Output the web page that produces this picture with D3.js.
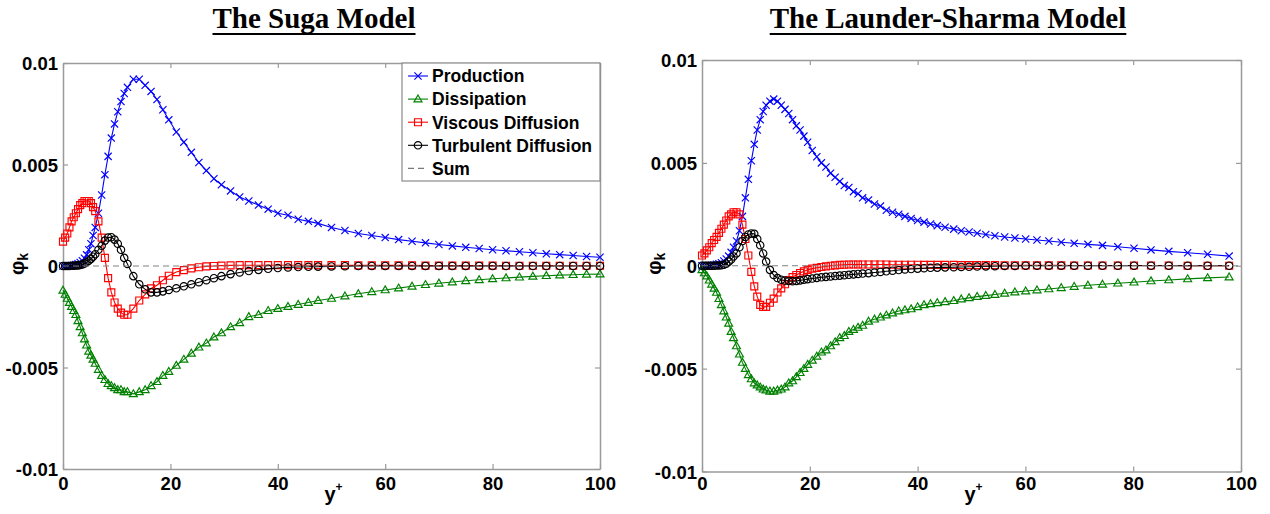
<!DOCTYPE html>
<html>
<head>
<meta charset="utf-8">
<script src="https://cdn.jsdelivr.net/npm/d3@7"></script>
<style>
  html, body { margin: 0; padding: 0; background: #fff; }
  svg { display: block; }
</style>
</head>
<body>
<svg id="chart" width="1270" height="514"></svg>
<script>
// ---------------- Data: turbulent kinetic energy budget terms vs y+ ----------------

// Suga model: wall-normal grid (y+) and budget terms
const yPlusSuga = [
  0, 0.4, 0.8, 1.2, 1.6, 2.0, 2.4, 2.8, 3.2, 3.6, 4.0, 4.4, 4.8, 5.2, 5.6, 6.0,
  6.6, 7.2, 7.8, 8.4, 9.0, 9.6, 10.2, 10.8, 11.4, 12.0,
  13.1, 14.2, 15.3, 16.4, 17.5, 18.6, 19.7,
  21.1, 22.5, 23.9, 25.3, 26.7, 28.1, 29.5,
  31.2, 32.9, 34.6, 36.4, 38.2, 40.0, 41.9, 43.8, 45.7,
  47.5, 50.0, 52.5, 55.0, 57.5, 60.0, 62.5, 65.0, 67.5, 70.0, 72.5, 75.0,
  77.5, 80.0, 82.5, 85.0, 87.5, 90.0, 92.5, 95.0, 97.5, 100.0
];
const productionSuga = [
  0, 0, 0, 0.00001, 0.00002, 0.00004, 0.00007, 0.00011, 0.00017, 0.00026, 0.00038, 0.00055, 0.0008, 0.0011, 0.0015, 0.0019,
  0.0026, 0.0035, 0.0045, 0.0054, 0.0063, 0.0070, 0.0076, 0.0081, 0.0085, 0.0088,
  0.0092, 0.0092, 0.0089, 0.0086, 0.0082, 0.0077, 0.0072,
  0.0066, 0.0061, 0.0056, 0.0051, 0.0047, 0.0043, 0.0040,
  0.0037, 0.0034, 0.0032, 0.0030, 0.0028, 0.0026, 0.0025, 0.0023, 0.0022,
  0.0021, 0.0019, 0.00175, 0.0016, 0.0015, 0.0014, 0.0013, 0.00122, 0.00114, 0.00106, 0.00099, 0.00092,
  0.00086, 0.0008, 0.00075, 0.0007, 0.00065, 0.0006, 0.00056, 0.00052, 0.00047, 0.00043
];
const dissipationSuga = [
  -0.0012, -0.0014, -0.0016, -0.0018, -0.0020, -0.0022, -0.0024, -0.0027, -0.0030, -0.0033, -0.0036, -0.0039, -0.0042, -0.0044, -0.0046, -0.0048,
  -0.0051, -0.0054, -0.0056, -0.0058, -0.0059, -0.0060, -0.0061, -0.0061, -0.0062, -0.0062,
  -0.0063, -0.0062, -0.0061, -0.0059, -0.0057, -0.0054, -0.0052,
  -0.0049, -0.0046, -0.0043, -0.0040, -0.0038, -0.0035, -0.0033,
  -0.0030, -0.0028, -0.0025, -0.0024, -0.0022, -0.0021, -0.0020, -0.0019, -0.0018,
  -0.0017, -0.0016, -0.00148, -0.00137, -0.00127, -0.00118, -0.00109, -0.0010, -0.00092, -0.00085, -0.00079, -0.00073,
  -0.00068, -0.00063, -0.00059, -0.00055, -0.00051, -0.00048, -0.00045, -0.00043, -0.00041, -0.0004
];
const viscousSuga = [
  0.0012, 0.0014, 0.0016, 0.0019, 0.0022, 0.0024, 0.0026, 0.0028, 0.0030, 0.0031, 0.0032, 0.0032, 0.0032, 0.0031, 0.0029, 0.0027,
  0.0022, 0.0014, 0.0004, -0.0006, -0.0013, -0.0018, -0.0021, -0.0023, -0.0024, -0.0024,
  -0.0021, -0.0017, -0.0014, -0.0011, -0.00095, -0.0007, -0.00048,
  -0.0003, -0.0002, -0.00012, -0.00006, -0.00002, 0, 0.00002,
  0.00003, 0.00004, 0.00004, 0.00004, 0.00004, 0.00004, 0.00004, 0.00004, 0.00004,
  0.00004, 0.00004, 0.00004, 0.00003, 0.00003, 0.00003, 0.00003, 0.00003, 0.00002, 0.00002, 0.00002, 0.00002,
  0.00002, 0.00002, 0.00001, 0.00001, 0.00001, 0.00001, 0.00001, 0.00001, 0.00001, 0.00001
];
const turbulentSuga = [
  0, 0, 0, 0, 0.00001, 0.00001, 0.00002, 0.00003, 0.00005, 0.00008, 0.00012, 0.00018, 0.00026, 0.00035, 0.00046, 0.00058,
  0.0008, 0.0010, 0.00125, 0.0014, 0.00142, 0.0013, 0.0011, 0.0008, 0.0004, 0.0001,
  -0.0005, -0.0009, -0.00115, -0.0013, -0.0013, -0.00125, -0.00118,
  -0.0011, -0.0010, -0.0009, -0.0008, -0.0007, -0.0006, -0.0005,
  -0.0004, -0.00032, -0.00025, -0.00019, -0.00014, -0.0001, -0.00007, -0.00005, -0.00004,
  -0.00003, -0.00002, -0.00001, 0, 0, 0, 0, 0, 0, 0, 0, 0,
  0, 0, 0, 0, 0, 0, 0, 0, 0, 0
];

// Launder-Sharma model: wall-normal grid (y+) and budget terms
const yPlusLS = [
  0, 0.45, 0.9, 1.35, 1.8, 2.25, 2.7, 3.15, 3.6, 4.05, 4.5, 4.95, 5.4, 5.85,
  6.4, 6.95, 7.5, 8.05, 8.6, 9.15, 9.7, 10.25, 10.8, 11.35, 11.9,
  12.6, 13.3, 14.0, 14.7, 15.4, 16.1, 16.8, 17.5, 18.2, 18.9, 19.6,
  20.45, 21.3, 22.15, 23.0, 23.85, 24.7, 25.55, 26.4, 27.25, 28.1, 28.95, 29.8,
  30.9, 32.0, 33.1, 34.2, 35.35, 36.5, 37.65, 38.8, 40.0, 41.2, 42.4, 43.65,
  45.1, 46.7, 48.1, 49.55, 51.05, 52.65, 54.35, 56.15, 58.05, 60.05, 62.15, 64.35,
  66.65, 69.05, 71.6, 74.3, 77.15, 80.15, 83.3, 86.6, 90.1, 93.8, 97.8
];
const productionLS = [
  0, 0, 0, 0.00001, 0.00002, 0.00004, 0.00007, 0.0001, 0.00015, 0.00023, 0.00033, 0.00047, 0.00065, 0.0009,
  0.0012, 0.0017, 0.0024, 0.0033, 0.0042, 0.0051, 0.0059, 0.0066, 0.0071, 0.0075, 0.0078,
  0.0080, 0.0081, 0.0080, 0.0078, 0.0076, 0.0074, 0.0071, 0.0068, 0.0066, 0.0063, 0.0060,
  0.0056, 0.0053, 0.0050, 0.0048, 0.0045, 0.0043, 0.0041, 0.0039, 0.0038, 0.0036, 0.0035, 0.0033,
  0.0032, 0.0030, 0.0029, 0.0027, 0.0026, 0.0025, 0.0024, 0.0023, 0.0022, 0.00212, 0.00203, 0.00195,
  0.00187, 0.00178, 0.0017, 0.00164, 0.00158, 0.00152, 0.00146, 0.0014, 0.00135, 0.0013, 0.00125, 0.0012,
  0.00114, 0.00109, 0.00104, 0.00099, 0.00092, 0.00085, 0.00077, 0.0007, 0.00063, 0.00056, 0.00047
];
const dissipationLS = [
  -0.0002, -0.00035, -0.0005, -0.0007, -0.0009, -0.0011, -0.0013, -0.0016, -0.0019, -0.0022, -0.0025, -0.0028, -0.0032, -0.0035,
  -0.0039, -0.0043, -0.0047, -0.0050, -0.0053, -0.0055, -0.0057, -0.0058, -0.0059, -0.0060, -0.00605,
  -0.0061, -0.0061, -0.00605, -0.0060, -0.0059, -0.0057, -0.0056, -0.0054, -0.0052, -0.0050, -0.0048,
  -0.0046, -0.0044, -0.0042, -0.0041, -0.0039, -0.0037, -0.0035, -0.0034, -0.0032, -0.0031, -0.0030, -0.0029,
  -0.0027, -0.0026, -0.0025, -0.0024, -0.0023, -0.0022, -0.00215, -0.0021, -0.0020, -0.0019, -0.00185, -0.0018,
  -0.00175, -0.0017, -0.00162, -0.00156, -0.0015, -0.00145, -0.0014, -0.00134, -0.00128, -0.00123, -0.00118, -0.00113,
  -0.00107, -0.00101, -0.00095, -0.0009, -0.00085, -0.0008, -0.00074, -0.00069, -0.00064, -0.00059, -0.00055
];
const viscousLS = [
  0.0005, 0.0006, 0.00075, 0.0009, 0.0011, 0.00125, 0.0014, 0.0016, 0.0018, 0.0020, 0.0022, 0.0024, 0.0025, 0.0026,
  0.0026, 0.0025, 0.0020, 0.0013, 0.0005, -0.0003, -0.0010, -0.0015, -0.0019, -0.0020, -0.0020,
  -0.0018, -0.0016, -0.0013, -0.0011, -0.0009, -0.0007, -0.00055, -0.00045, -0.00035, -0.00027, -0.0002,
  -0.00014, -0.0001, -0.00006, -0.00003, 0, 0.00002, 0.00004, 0.00005, 0.00006, 0.00006, 0.00006, 0.00006,
  0.00006, 0.00006, 0.00006, 0.00006, 0.00005, 0.00005, 0.00005, 0.00005, 0.00005, 0.00004, 0.00004, 0.00004,
  0.00004, 0.00004, 0.00003, 0.00003, 0.00003, 0.00003, 0.00003, 0.00002, 0.00002, 0.00002, 0.00002, 0.00002,
  0.00002, 0.00001, 0.00001, 0.00001, 0.00001, 0.00001, 0.00001, 0.00001, 0, 0, 0
];
const turbulentLS = [
  0, 0, 0, 0, 0, 0, 0.00001, 0.00001, 0.00002, 0.00005, 0.0001, 0.0002, 0.0003, 0.00045,
  0.0006, 0.0009, 0.0012, 0.0014, 0.00152, 0.00157, 0.00155, 0.0013, 0.0010, 0.0006, 0.0002,
  -0.0002, -0.00045, -0.0006, -0.00068, -0.00072, -0.00074, -0.00075, -0.00074, -0.00071, -0.00068, -0.00065,
  -0.00062, -0.00059, -0.00056, -0.00054, -0.00052, -0.0005, -0.00048, -0.00046, -0.00044, -0.00042, -0.0004, -0.00038,
  -0.00036, -0.00033, -0.0003, -0.00027, -0.00024, -0.00021, -0.00018, -0.00016, -0.00014, -0.00012, -0.0001, -0.00009,
  -0.00008, -0.00007, -0.00006, -0.00005, -0.00004, -0.00003, -0.00002, -0.00001, -0.00001, 0, 0, 0,
  0, 0, 0, 0, 0, 0, 0, 0, 0, 0, 0
];

// The budget closes: the sum of all terms stays at zero across the layer
const sumYPlus = [0, 100];
const sumValues = [0, 0];

// Axis ticks and labels
const xTicks = [0, 20, 40, 60, 80, 100];
const yTicks = [-0.01, -0.005, 0, 0.005, 0.01];
const yTickLabels = ["-0.01", "-0.005", "0", "0.005", "0.01"];
const seriesNames = ["Production", "Dissipation", "Viscous Diffusion", "Turbulent Diffusion", "Sum"];
const panelTitles = ["The Suga Model", "The Launder-Sharma Model"];

// ---------------- Drawing ----------------
const svg = d3.select("#chart");
const sansFont = "'Liberation Sans', Arial, sans-serif";
const serifFont = "'Liberation Serif', 'Times New Roman', serif";

const seriesStyles = [
  { color: "#0000ff", marker: "x" },
  { color: "#008000", marker: "triangle" },
  { color: "#ff0000", marker: "square" },
  { color: "#000000", marker: "circle" }
];

function markerPath(type) {
  switch (type) {
    case "x": { const h = 3.6; return `M${-h},${-h}L${h},${h}M${-h},${h}L${h},${-h}`; }
    case "triangle": return "M0,-4.1L4.0,2.8L-4.0,2.8Z";
    case "square": { const h = 3.5; return `M${-h},${-h}H${h}V${h}H${-h}Z`; }
    case "circle": { const r = 3.7; return `M${r},0A${r},${r} 0 1 1 ${-r},0A${r},${r} 0 1 1 ${r},0Z`; }
  }
  return "";
}

function drawPanel(cfg) {
  const x = d3.scaleLinear().domain([0, 100]).range([cfg.left, cfg.right]);
  const y = d3.scaleLinear().domain([-0.01, 0.01]).range([cfg.bottom, cfg.top]);
  const g = svg.append("g");

  // Title, underlined
  const title = g.append("text")
    .attr("x", cfg.titleX).attr("y", 28)
    .attr("text-anchor", "middle")
    .attr("font-family", serifFont).attr("font-weight", "bold").attr("font-size", 29)
    .attr("fill", "#000")
    .text(cfg.title);
  const tw = title.node().getComputedTextLength();
  g.append("line")
    .attr("x1", cfg.titleX - tw / 2).attr("x2", cfg.titleX + tw / 2)
    .attr("y1", 34).attr("y2", 34)
    .attr("stroke", "#000").attr("stroke-width", 2.2);

  // Axes (ticks point inward, box on all four sides)
  const frameColor = "#9a9a9a";
  const labelBaseline = 490;
  const bottomAxis = d3.axisBottom(x).tickValues(xTicks).tickSizeInner(-5).tickSizeOuter(0)
    .tickPadding(labelBaseline - cfg.bottom - 13).tickFormat(d3.format("d"));
  const topAxis = d3.axisTop(x).tickValues(xTicks).tickSizeInner(-5).tickSizeOuter(0).tickFormat("");
  const leftAxis = d3.axisLeft(y).tickValues(yTicks).tickSizeInner(-5).tickSizeOuter(0)
    .tickPadding(5).tickFormat((d, i) => yTickLabels[i]);
  const rightAxis = d3.axisRight(y).tickValues(yTicks).tickSizeInner(-5).tickSizeOuter(0).tickFormat("");

  const axes = [
    g.append("g").attr("transform", `translate(0,${cfg.bottom})`).call(bottomAxis),
    g.append("g").attr("transform", `translate(0,${cfg.top})`).call(topAxis),
    g.append("g").attr("transform", `translate(${cfg.left},0)`).call(leftAxis),
    g.append("g").attr("transform", `translate(${cfg.right},0)`).call(rightAxis)
  ];
  axes.forEach(a => {
    a.select(".domain").attr("stroke", frameColor).attr("stroke-width", 1.5);
    a.selectAll(".tick line").attr("stroke", frameColor).attr("stroke-width", 1.2);
    a.selectAll(".tick text")
      .attr("font-family", sansFont).attr("font-weight", "bold").attr("font-size", 18.5)
      .attr("fill", "#000");
  });
  axes[2].selectAll(".tick text").attr("dy", "0.36em");

  // Axis labels
  g.append("text")
    .attr("transform", `translate(${cfg.ylabelX},${(cfg.top + cfg.bottom) / 2 - 2}) rotate(-90)`)
    .attr("text-anchor", "middle")
    .attr("font-family", sansFont).attr("font-weight", "bold").attr("font-size", 20)
    .attr("fill", "#000")
    .call(t => {
      t.append("tspan").text("\u03C6");
      t.append("tspan").attr("font-size", 14).attr("dy", 4).text("k");
    });
  g.append("text")
    .attr("x", (cfg.left + cfg.right) / 2 + 2).attr("y", 501)
    .attr("text-anchor", "middle")
    .attr("font-family", sansFont).attr("font-weight", "bold").attr("font-size", 20)
    .attr("fill", "#000")
    .call(t => {
      t.append("tspan").text("y");
      t.append("tspan").attr("font-size", 12).attr("dy", -10).text("+");
    });

  // Series: line then markers, drawn in order
  const plot = g.append("g");
  cfg.series.forEach((vals, si) => {
    const st = seriesStyles[si];
    const pts = cfg.yPlus.map((yp, i) => [yp, vals[i]]);
    plot.append("path")
      .attr("d", d3.line().x(d => x(d[0])).y(d => y(d[1]))(pts))
      .attr("fill", "none").attr("stroke", st.color).attr("stroke-width", 1.1);
    plot.append("g").selectAll("path").data(pts).join("path")
      .attr("transform", d => `translate(${x(d[0])},${y(d[1])})`)
      .attr("d", markerPath(st.marker))
      .attr("fill", "none").attr("stroke", st.color).attr("stroke-width", 1.15);
  });
  const sumPts = sumYPlus.map((yp, i) => [yp, sumValues[i]]);
  plot.append("path")
    .attr("d", d3.line().x(d => x(d[0])).y(d => y(d[1]))(sumPts))
    .attr("fill", "none").attr("stroke", "#808080").attr("stroke-width", 1.1)
    .attr("stroke-dasharray", "6,4");

  // Legend
  if (cfg.legend) {
    const lg = g.append("g");
    const lx = 402, ly = 63, lw = 198, lh = 118;
    lg.append("rect").attr("x", lx).attr("y", ly).attr("width", lw).attr("height", lh)
      .attr("fill", "#fff").attr("stroke", "#8a8a8a").attr("stroke-width", 1.2);
    seriesNames.forEach((name, i) => {
      const cy = 76 + i * 23.1;
      if (i < 4) {
        const st = seriesStyles[i];
        lg.append("line").attr("x1", 408).attr("x2", 428).attr("y1", cy).attr("y2", cy)
          .attr("stroke", st.color).attr("stroke-width", 1.1);
        lg.append("path").attr("transform", `translate(418,${cy})`).attr("d", markerPath(st.marker))
          .attr("fill", "none").attr("stroke", st.color).attr("stroke-width", 1.15);
      } else {
        lg.append("line").attr("x1", 408).attr("x2", 428).attr("y1", cy).attr("y2", cy)
          .attr("stroke", "#777").attr("stroke-width", 1.1).attr("stroke-dasharray", "6,4");
      }
      lg.append("text").attr("x", 432).attr("y", cy).attr("dy", "0.36em")
        .attr("font-family", sansFont).attr("font-weight", "bold").attr("font-size", 17.5)
        .attr("fill", "#000").text(name);
    });
  }
}

drawPanel({
  left: 63, right: 600, top: 63, bottom: 469,
  title: panelTitles[0], titleX: 314, ylabelX: 24,
  yPlus: yPlusSuga,
  series: [productionSuga, dissipationSuga, viscousSuga, turbulentSuga],
  legend: true
});
drawPanel({
  left: 702, right: 1241, top: 60, bottom: 471.5,
  title: panelTitles[1], titleX: 948, ylabelX: 661,
  yPlus: yPlusLS,
  series: [productionLS, dissipationLS, viscousLS, turbulentLS],
  legend: false
});
</script>
</body>
</html>
